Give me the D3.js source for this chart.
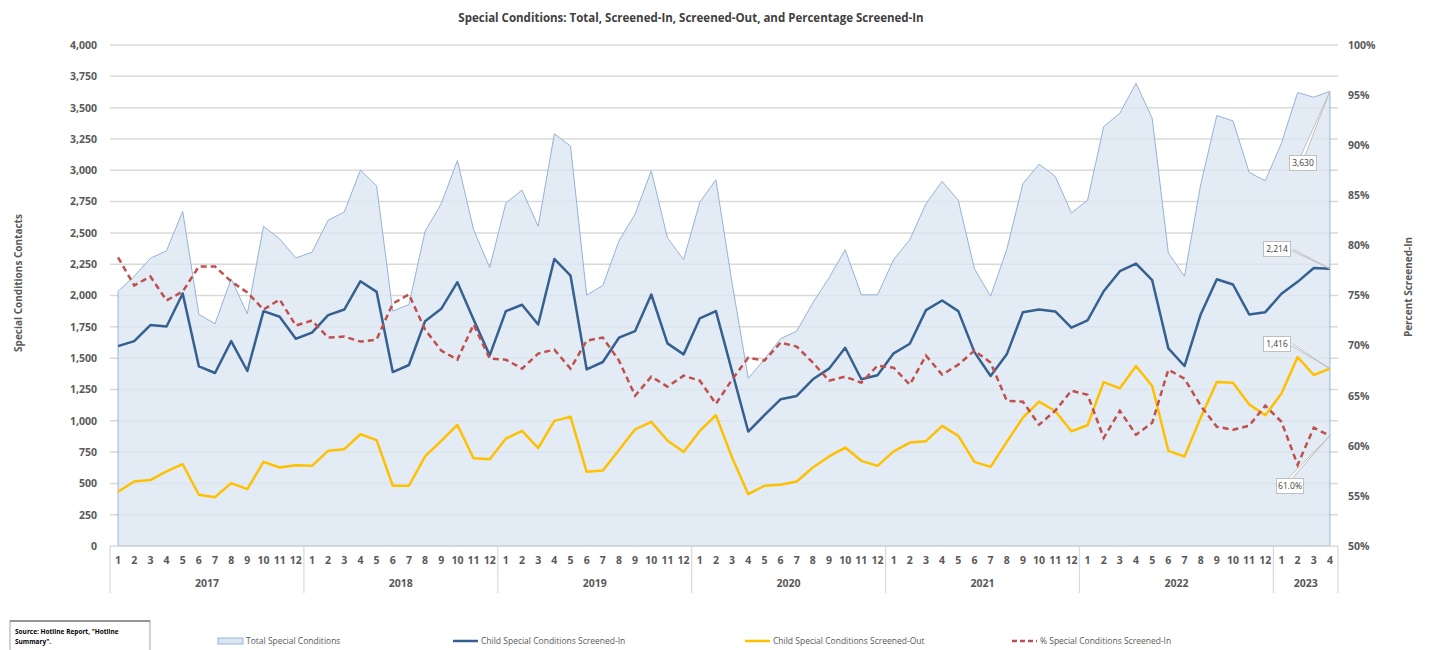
<!DOCTYPE html>
<html>
<head>
<meta charset="utf-8">
<script src="https://cdn.jsdelivr.net/npm/d3@7"></script>
<style>
  body { margin: 0; background: #fff; }
  svg { font-family: 'Open Sans', sans-serif; }
</style>
</head>
<body>
<div id="graph"></div>
<script>
// months per year on the category axis
var years = ["2017", "2018", "2019", "2020", "2021", "2022", "2023"];
var monthCounts = [12, 12, 12, 12, 12, 12, 4];

var totalSpecial = [
  2034, 2154, 2297, 2358, 2672, 1849, 1774, 2133, 1854, 2552, 2452, 2300,
  2345, 2600, 2667, 3001, 2876, 1875, 1928, 2512, 2733, 3078, 2526, 2223,
  2738, 2842, 2552, 3291, 3193, 2003, 2080, 2436, 2651, 2996, 2460, 2287,
  2743, 2924, 2100, 1339, 1490, 1655, 1716, 1942, 2141, 2366, 2005, 2005,
  2287, 2446, 2733, 2911, 2760, 2213, 1995, 2367, 2893, 3049, 2951, 2659,
  2760, 3349, 3455, 3695, 3415, 2340, 2154, 2884, 3437, 3394, 2983, 2916,
  3216, 3620, 3583, 3630];

var screenedIn = [
  1596, 1636, 1764, 1753, 2016, 1434, 1381, 1636, 1397, 1875, 1830, 1655,
  1703, 1843, 1888, 2114, 2029, 1389, 1445, 1795, 1894, 2106, 1809, 1522,
  1875, 1926, 1769, 2292, 2159, 1410, 1469, 1663, 1716, 2008, 1618, 1530,
  1817, 1875, 1394, 914, 1044, 1171, 1198, 1331, 1416, 1583, 1331, 1363,
  1538, 1615, 1883, 1960, 1875, 1548, 1357, 1530, 1867, 1888, 1873, 1743,
  1801, 2034, 2194, 2255, 2122, 1578, 1437, 1849, 2130, 2088, 1849, 1867,
  2014, 2109, 2220, 2214];

var screenedOut = [
  433, 515, 526, 595, 653, 409, 390, 502, 454, 672, 627, 645,
  640, 760, 773, 892, 845, 481, 481, 715, 839, 967, 701, 693,
  858, 919, 781, 999, 1033, 592, 603, 767, 932, 991, 842, 751,
  919, 1044, 707, 414, 481, 489, 515, 627, 715, 786, 680, 640,
  755, 826, 837, 959, 879, 672, 632, 831, 1025, 1153, 1078, 916,
  964, 1309, 1259, 1437, 1277, 760, 715, 1025, 1309, 1304, 1131, 1044,
  1217, 1508, 1365, 1416];

var pctScreenedIn = [
  78.8, 76.0, 76.9, 74.5, 75.4, 77.9, 77.9, 76.4, 75.3, 73.6, 74.6, 72.0,
  72.5, 70.8, 70.9, 70.4, 70.6, 74.2, 75.1, 71.6, 69.5, 68.6, 72.1, 68.7,
  68.6, 67.7, 69.2, 69.6, 67.7, 70.5, 70.8, 68.5, 65.0, 66.9, 65.9, 67.0,
  66.5, 64.2, 66.6, 68.8, 68.5, 70.3, 69.9, 68.3, 66.5, 66.9, 66.3, 68.0,
  67.8, 66.1, 69.0, 67.1, 68.1, 69.5, 68.3, 64.5, 64.4, 62.1, 63.5, 65.5,
  65.1, 60.8, 63.5, 61.1, 62.3, 67.6, 66.7, 64.0, 61.9, 61.6, 62.0, 64.0,
  62.4, 58.1, 61.8, 61.0];

var leftTicks = d3.range(0, 4001, 250);
var rightTicks = d3.range(50, 101, 5);

var W = 1429, H = 650;
var plotL = 110, plotR = 1338, plotT = 45, plotB = 546;
var textCol = "#595959";

// build category list
var cats = [];
years.forEach(function (yr, i) {
  for (var m = 1; m <= monthCounts[i]; m++) cats.push({ key: yr + "-" + m, year: yr, month: m });
});

var svg = d3.select("#graph").append("svg")
  .attr("width", W).attr("height", H);

var x = d3.scaleBand().domain(cats.map(function (c) { return c.key; })).range([plotL, plotR]);
var cx = function (i) { return x(cats[i].key) + x.bandwidth() / 2; };
var y = d3.scaleLinear().domain([0, 4000]).range([plotB, plotT]);
var y2 = d3.scaleLinear().domain([50, 100]).range([plotB, plotT]);

// title
svg.append("text")
  .attr("x", 691).attr("y", 22)
  .attr("text-anchor", "middle")
  .style("font-size", "11.5px").style("font-weight", "bold")
  .style("fill", "#404040")
  .text("Special Conditions: Total, Screened-In, Screened-Out, and Percentage Screened-In");

// gridlines
svg.append("g").selectAll("line").data(leftTicks.slice(1)).join("line")
  .attr("x1", plotL).attr("x2", plotR)
  .attr("y1", function (d) { return y(d); }).attr("y2", function (d) { return y(d); })
  .style("stroke", "#d9d9d9").style("stroke-width", 1.5);

// left axis
var yAxis = svg.append("g")
  .attr("transform", "translate(" + (plotL - 10) + ",0)")
  .call(d3.axisLeft(y).tickValues(leftTicks).tickSize(0).tickFormat(d3.format(",")));
yAxis.select(".domain").remove();
yAxis.selectAll("text").style("font-size", "10.5px").style("font-weight", "bold")
  .style("fill", textCol).style("font-family", "'Open Sans', sans-serif");

// right axis
var y2Axis = svg.append("g")
  .attr("transform", "translate(" + (plotR + 7) + ",0)")
  .call(d3.axisRight(y2).tickValues(rightTicks).tickSize(0).tickFormat(function (d) { return d + "%"; }));
y2Axis.select(".domain").remove();
y2Axis.selectAll("text").style("font-size", "10.5px").style("font-weight", "bold")
  .style("fill", textCol).style("font-family", "'Open Sans', sans-serif");

// axis titles
svg.append("text")
  .attr("transform", "translate(22,283) rotate(-90)")
  .attr("text-anchor", "middle")
  .style("font-size", "10px").style("font-weight", "bold").style("fill", textCol)
  .text("Special Conditions Contacts");
svg.append("text")
  .attr("transform", "translate(1412,287) rotate(-90)")
  .attr("text-anchor", "middle")
  .style("font-size", "10px").style("font-weight", "bold").style("fill", textCol)
  .text("Percent Screened-In");

// total area
var area = d3.area()
  .x(function (d, i) { return cx(i); })
  .y0(y(0))
  .y1(function (d) { return y(d); });
svg.append("path").datum(totalSpecial)
  .attr("d", area)
  .style("fill", "#dce6f2").style("fill-opacity", 0.8)
  .style("stroke", "#95b3d7").style("stroke-width", 1);

// baseline
svg.append("line")
  .attr("x1", plotL).attr("x2", plotR).attr("y1", plotB).attr("y2", plotB)
  .style("stroke", "#d9d9d9").style("stroke-width", 1.5);

var line = d3.line().x(function (d, i) { return cx(i); }).y(function (d) { return y(d); });
var line2 = d3.line().x(function (d, i) { return cx(i); }).y(function (d) { return y2(d); });

svg.append("path").datum(screenedOut).attr("d", line)
  .style("fill", "none").style("stroke", "#ffc000").style("stroke-width", 2.5)
  .style("stroke-linejoin", "round");
svg.append("path").datum(screenedIn).attr("d", line)
  .style("fill", "none").style("stroke", "#35608f").style("stroke-width", 2.5)
  .style("stroke-linejoin", "round");
svg.append("path").datum(pctScreenedIn).attr("d", line2)
  .style("fill", "none").style("stroke", "#c0504d").style("stroke-width", 2.5)
  .style("stroke-dasharray", "6,4");

// category axis: months and years
var xg = svg.append("g");
xg.selectAll("text.m").data(cats).join("text")
  .attr("class", "m")
  .attr("x", function (d, i) { return cx(i); })
  .attr("y", 564)
  .attr("text-anchor", "middle")
  .style("font-size", "10.5px").style("font-weight", "bold").style("fill", textCol)
  .text(function (d) { return d.month; });

var bounds = [];
var idx = 0;
years.forEach(function (yr, i) {
  var first = cats[idx].key;
  var last = cats[idx + monthCounts[i] - 1].key;
  bounds.push({ year: yr, x0: x(first), x1: x(last) + x.bandwidth() });
  idx += monthCounts[i];
});
xg.selectAll("text.y").data(bounds).join("text")
  .attr("class", "y")
  .attr("x", function (d) { return (d.x0 + d.x1) / 2; })
  .attr("y", 587)
  .attr("text-anchor", "middle")
  .style("font-size", "10.5px").style("font-weight", "bold").style("fill", textCol)
  .text(function (d) { return d.year; });
var seps = bounds.map(function (d) { return d.x0; }).concat([plotR]);
xg.selectAll("line").data(seps).join("line")
  .attr("x1", function (d) { return d; }).attr("x2", function (d) { return d; })
  .attr("y1", plotB).attr("y2", 593)
  .style("stroke", "#d9d9d9").style("stroke-width", 1.2);

// data labels for last point, boxes placed like the original
var n = cats.length - 1;
var labels = [
  { text: d3.format(",")(totalSpecial[n]), py: y(totalSpecial[n]), bx: 1303, by: 163, side: "top" },
  { text: d3.format(",")(screenedIn[n]), py: y(screenedIn[n]), bx: 1277, by: 249, side: "right" },
  { text: d3.format(",")(screenedOut[n]), py: y(screenedOut[n]), bx: 1277, by: 344, side: "right" },
  { text: d3.format(".1f")(pctScreenedIn[n]) + "%", py: y2(pctScreenedIn[n]), bx: 1290, by: 486, side: "top" }
];
labels.forEach(function (l) {
  var px = cx(n);
  var g = svg.append("g");
  var bw = l.text.length > 5 ? 30 : 27, bh = 15;
  var ax, ay;
  if (l.side === "top") { ax = l.bx; ay = l.by - bh / 2; }
  else { ax = l.bx + bw / 2; ay = l.by; }
  g.append("path")
    .attr("d", "M" + (ax - 2) + "," + ay + "L" + px + "," + l.py + "L" + (ax + 2) + "," + ay)
    .style("fill", "#fff").style("stroke", "#bfbfbf").style("stroke-width", 1);
  g.append("rect")
    .attr("x", l.bx - bw / 2).attr("y", l.by - bh / 2)
    .attr("width", bw).attr("height", bh)
    .style("fill", "#fff").style("stroke", "#bfbfbf").style("stroke-width", 1);
  g.append("text")
    .attr("x", l.bx).attr("y", l.by + 3)
    .attr("text-anchor", "middle")
    .style("font-size", "8.5px").style("fill", "#404040")
    .text(l.text);
});

// legend
var legend = [
  { label: "Total Special Conditions", type: "area", x: 218 },
  { label: "Child Special Conditions Screened-In", type: "line", color: "#35608f", x: 453 },
  { label: "Child Special Conditions Screened-Out", type: "line", color: "#ffc000", x: 745 },
  { label: "% Special Conditions Screened-In", type: "dash", color: "#c0504d", x: 1012 }
];
var ly = 641;
legend.forEach(function (d) {
  if (d.type === "area") {
    svg.append("rect").attr("x", d.x).attr("y", ly - 3).attr("width", 25).attr("height", 6)
      .style("fill", "#dce6f2").style("stroke", "#95b3d7").style("stroke-width", 1);
  } else {
    svg.append("line").attr("x1", d.x).attr("x2", d.x + 25).attr("y1", ly).attr("y2", ly)
      .style("stroke", d.color).style("stroke-width", 2.5)
      .style("stroke-dasharray", d.type === "dash" ? "5,3" : null);
  }
  svg.append("text").attr("x", d.x + 28).attr("y", ly + 3)
    .style("font-size", "8.5px").style("fill", textCol)
    .text(d.label);
});

// source box
svg.append("rect").attr("x", 10).attr("y", 621).attr("width", 140).attr("height", 40)
  .style("fill", "#fff").style("stroke", "#a6a6a6").style("stroke-width", 1);
svg.append("line").attr("x1", 10).attr("x2", 150).attr("y1", 621).attr("y2", 621)
  .style("stroke", "#7f7f7f").style("stroke-width", 1.5);
svg.append("text").attr("x", 15).attr("y", 634)
  .style("font-size", "6.5px").style("font-weight", "bold").style("fill", "#000")
  .text("Source: Hotline Report, \"Hotline");
svg.append("text").attr("x", 15).attr("y", 644)
  .style("font-size", "6.5px").style("font-weight", "bold").style("fill", "#000")
  .text("Summary\".");
</script>
</body>
</html>
